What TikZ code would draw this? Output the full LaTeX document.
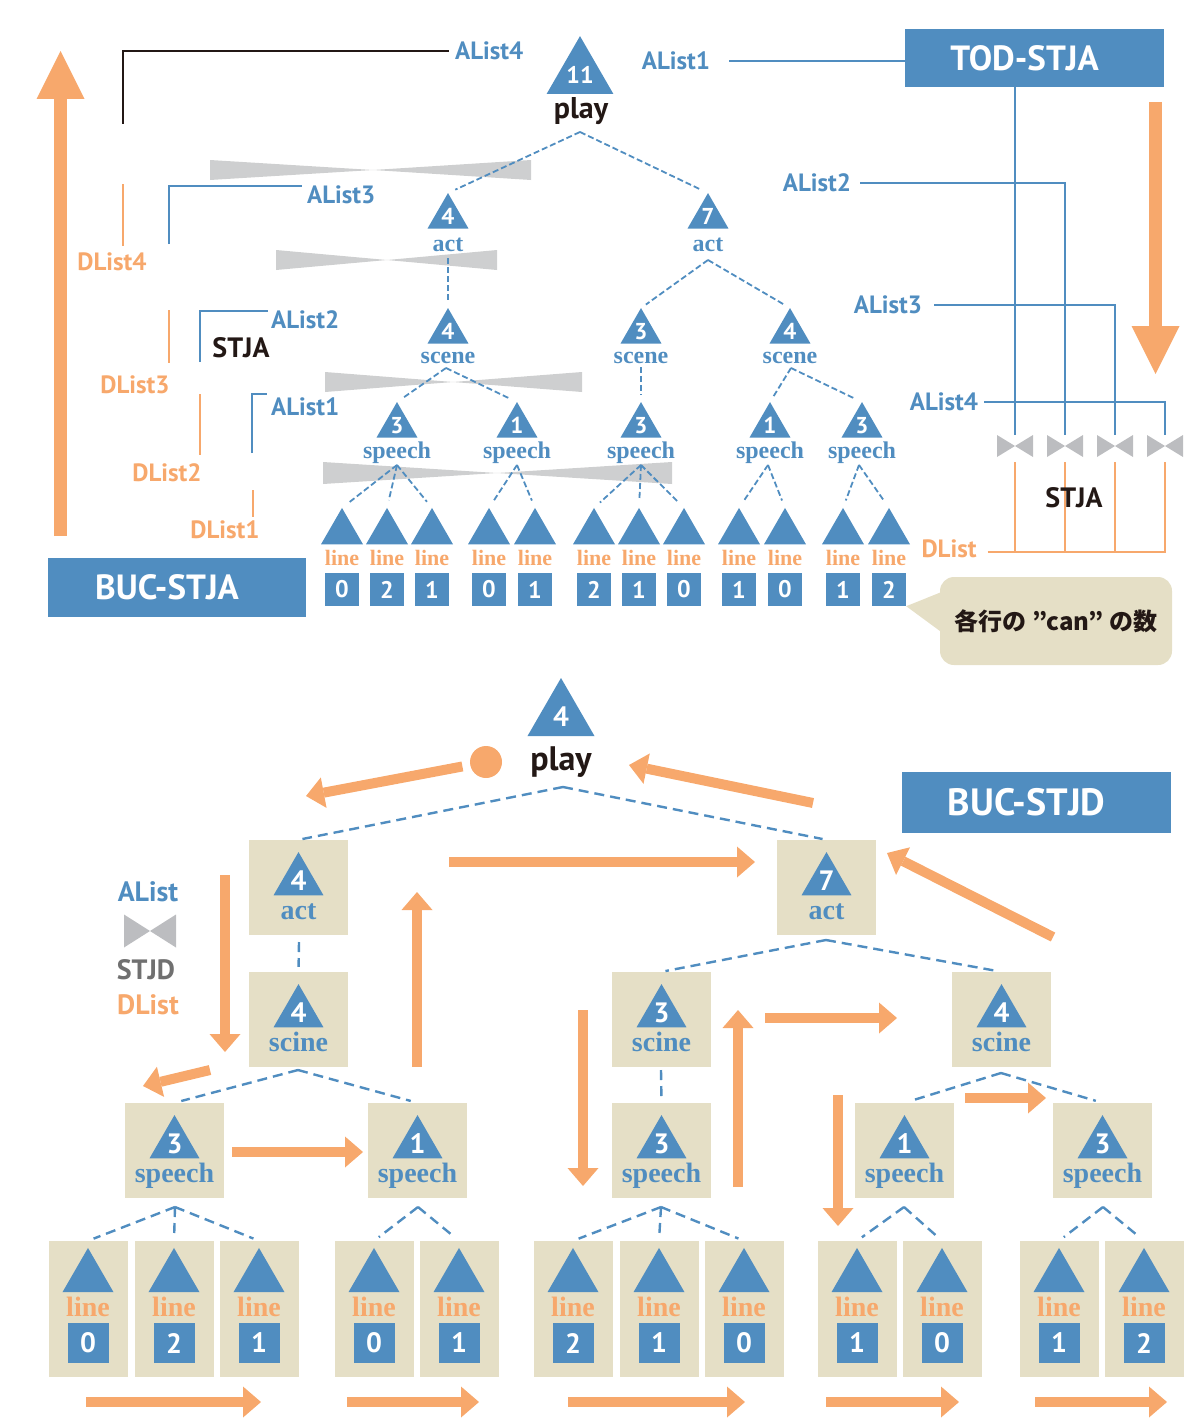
\documentclass[tikz,border=0pt]{standalone}
\usepackage{fontspec}
\setmainfont{Liberation Serif}
\newfontfamily\sansf{PT Sans}
\newfontfamily\cjk{Noto Sans CJK JP}
\usetikzlibrary{shapes.geometric, arrows.meta}

\definecolor{jblue}{RGB}{80,141,192}
\definecolor{jorange}{RGB}{247,168,108}
\definecolor{jbeige}{RGB}{229,223,198}
\definecolor{jgray}{RGB}{206,207,208}
\definecolor{jtie}{RGB}{188,189,192}
\definecolor{jdark}{RGB}{35,24,21}
\definecolor{jstjd}{RGB}{112,112,112}

\newcommand{\fs}[1]{\fontsize{#1}{#1}\selectfont}

\tikzset{
  tri/.style={regular polygon, regular polygon sides=3, fill=jblue, inner sep=0pt, outer sep=0pt, text=white, font=\sansf\bfseries\fs{23}},
  word/.style={text=jblue, font=\bfseries\fs{24}, inner sep=0pt, anchor=base},
  lineword/.style={text=jorange, font=\bfseries\fs{22}, inner sep=0pt, anchor=base},
  numbox/.style={fill=jblue, text=white, font=\sansf\bfseries\fs{24}, minimum width=34pt, minimum height=33pt, inner sep=0pt},
  alist/.style={text=jblue, font=\sansf\bfseries\fs{25}, inner sep=0pt},
  dlist/.style={text=jorange, font=\sansf\bfseries\fs{25}, inner sep=0pt},
  stja/.style={text=jdark, font=\sansf\bfseries\fs{28}, inner sep=0pt},
  titlebox/.style={fill=jblue, text=white, font=\sansf\bfseries\fs{35}, inner sep=0pt},
  beige/.style={fill=jbeige, inner sep=0pt, minimum width=99pt, minimum height=95pt},
  tiebox/.style={minimum width=36pt, minimum height=22pt, inner sep=0pt, outer sep=0pt},
  dlink/.style={jblue, line width=1.8pt, dash pattern=on 6pt off 3pt},
  bdlink/.style={jblue, line width=2.4pt, dash pattern=on 10pt off 6pt},
  bline/.style={jblue, line width=2pt},
  oline/.style={jorange, line width=2.5pt},
  fat/.style={jorange, line width=10pt, -{Triangle[length=18pt, width=31pt, line width=0pt]}},
  bigfat/.style={jorange, line width=13pt, -{Triangle[length=48pt, width=48pt, line width=0pt]}},
}

% bow tie of two grey triangles
\newcommand{\tie}[4][]{%
  \node[tiebox, #1] (#2) at (#3,#4) {};
  \fill[jtie] (#2.north west) -- (#2.center) -- (#2.south west) -- cycle
              (#2.north east) -- (#2.center) -- (#2.south east) -- cycle;
}
% beige box with counter triangle and element name
\newcommand{\ubox}[5]{%
  \node[beige] (#1) at (#2,#3+47.5) {};
  \node[tri, minimum size=57.7pt, font=\sansf\bfseries\fs{28}] (#1t) at (#2,#3+40.9) {#4};
  \node[word, font=\bfseries\fs{28}] (#1w) at (#2,#3+79) {#5};
}

\begin{document}
\begin{tikzpicture}[x=1pt, y=-1pt]
    \useasboundingbox (0,0) rectangle (1183,1418);

    %%%%% Upper half: STJA %%%%%

    % Grey bow bars behind the tree
    \fill[jgray] (210,160) -- (373,170) -- (531,160) -- (531,180) -- (373,170) -- (210,180) -- cycle;
    \fill[jgray] (276,250) -- (387,260) -- (497,250) -- (497,270) -- (387,260) -- (276,270) -- cycle;
    \fill[jgray] (325,372) -- (453,382) -- (582,372) -- (582,392) -- (453,382) -- (325,392) -- cycle;
    \fill[jgray] (323,462) -- (497,473) -- (672,462) -- (672,484) -- (497,473) -- (323,484) -- cycle;

    % Tree nodes
    \node[tri, minimum size=69.3pt, font=\sansf\bfseries\fs{24}] (p) at (580,74.6) {11};
    \node[word, text=jdark, font=\sansf\bfseries\fs{30}] (pw) at (581,118) {play};
    \node[tri, minimum size=47.3pt] (a4) at (448,216.7) {4};
    \node[word] (a4w) at (448,251) {act};
    \node[tri, minimum size=47.3pt] (a7) at (708,216.7) {7};
    \node[word] (a7w) at (708,251) {act};
    \node[tri, minimum size=47.3pt] (s4) at (448,331.7) {4};
    \node[word] (s4w) at (448,363) {scene};
    \node[tri, minimum size=47.3pt] (s3) at (641,331.7) {3};
    \node[word] (s3w) at (641,363) {scene};
    \node[tri, minimum size=47.3pt] (s4b) at (790,331.7) {4};
    \node[word] (s4bw) at (790,363) {scene};
    \foreach \x/\n [count=\i] in {397/3, 517/1, 641/3, 770/1, 862/3} {
        \node[tri, minimum size=47.3pt] (sp\i) at (\x,425.7) {\n};
        \node[word] (spw\i) at (\x,458) {speech};
    }
    \foreach \x/\n [count=\i] in {342/0, 387/2, 432/1, 489/0, 535/1, 594/2, 639/1, 684/0, 739/1, 785/0, 843/1, 889/2} {
        \node[tri, minimum size=48.5pt] (l\i) at (\x,532.2) {};
        \node[lineword] (lw\i) at (\x,565) {line};
        \node[numbox] (ln\i) at (\x,589.5) {\n};
    }

    % Dashed tree edges
    \coordinate (fp) at (580,132);
    \coordinate (fa4) at (448,258);
    \coordinate (fa7) at (708,260);
    \coordinate (fs4) at (446,368);
    \coordinate (fs3) at (641,367);
    \coordinate (fs4b) at (791,368);
    \foreach \x [count=\i] in {397, 517, 641, 768, 859} \coordinate (fsp\i) at (\x,465);
    \draw[dlink, shorten >=8pt] (fp) -- (a4.corner 1);
    \draw[dlink, shorten >=8pt] (fp) -- (a7.corner 1);
    \draw[dlink, shorten >=6pt] (fa4) -- (s4.corner 1);
    \draw[dlink, shorten >=6pt] (fa7) -- (s3.corner 1);
    \draw[dlink, shorten >=6pt] (fa7) -- (s4b.corner 1);
    \draw[dlink, shorten >=7pt] (fs4) -- (sp1.corner 1);
    \draw[dlink, shorten >=7pt] (fs4) -- (sp2.corner 1);
    \draw[dlink, shorten >=7pt] (fs3) -- (sp3.corner 1);
    \draw[dlink, shorten >=7pt] (fs4b) -- (sp4.corner 1);
    \draw[dlink, shorten >=7pt] (fs4b) -- (sp5.corner 1);
    \foreach \f/\c in {fsp1/l1, fsp1/l2, fsp1/l3, fsp2/l4, fsp2/l5, fsp3/l6, fsp3/l7, fsp3/l8, fsp4/l9, fsp4/l10, fsp5/l11, fsp5/l12}
        \draw[dlink, shorten >=8pt] (\f) -- (\c.corner 1);

    % Left side: BUC-STJA
    \draw[bigfat] (60.5,536) -- (60.5,51);
    \node[titlebox, minimum width=258pt, minimum height=59pt] (buca) at (177,587.5) {BUC-STJA\hspace*{20pt}};
    \node[alist, anchor=west] (al4) at (455,51) {AList4};
    \node[alist, anchor=west] (al3) at (307,195) {AList3};
    \node[alist, anchor=west] (al2) at (271,320) {AList2};
    \node[alist, anchor=west] (al1) at (271,407) {AList1};
    \draw[jdark, line width=2.5pt, shorten >=6pt] (123,124) |- (al4.west);
    \draw[bline, shorten >=5pt] (169,244) |- (al3.north west);
    \draw[bline, shorten >=3pt] (200,362) |- (al2.north west);
    \draw[bline, shorten >=4pt] (252,453) |- ([yshift=4pt]al1.north west);
    \node[stja] (stjal) at (241,348) {STJA};
    \node[dlist] (dl4) at (112,262) {DList4};
    \node[dlist] (dl3) at (135,385) {DList3};
    \node[dlist] (dl2) at (167,473) {DList2};
    \node[dlist] (dl1) at (225,530) {DList1};
    \draw[oline] (123,184) -- (123,246);
    \draw[oline] (169,310) -- (169,363);
    \draw[oline] (200,394) -- (200,455);
    \draw[oline] (253,490) -- (253,517);

    % Right side: TOD-STJA
    \node[titlebox, minimum width=259pt, minimum height=58pt] (tod) at (1034.5,58) {TOD-STJA\hspace*{20pt}};
    \draw[bigfat] (1155.5,102) -- (1155.5,374);
    \tie{t1}{1015}{446}
    \tie{t2}{1065}{446}
    \tie{t3}{1115}{446}
    \tie{t4}{1165}{446}
    \node[alist] (ar1) at (676,61) {AList1};
    \node[alist] (ar2) at (817,183) {AList2};
    \node[alist] (ar3) at (888,305) {AList3};
    \node[alist] (ar4) at (944,402) {AList4};
    \draw[bline, shorten <=19pt] (ar1.east) -- (ar1.east -| tod.west);
    \draw[bline] (t1 |- tod.south) -- (t1.north);
    \draw[bline, shorten <=9pt] (ar2.east) -| (t2.north);
    \draw[bline, shorten <=12pt] (ar3.east) -| (t3.north);
    \draw[bline, shorten <=6pt] (ar4.east) -| (t4.north);
    \node[dlist] (dlr) at (949,549) {DList};
    \draw[oline, shorten <=11pt, shorten >=5pt] (dlr.east) ++(0,3) -| (t4.south);
    \foreach \t in {t1, t2, t3} \draw[oline, shorten <=5pt] (\t.south) -- (\t |- 0,552);
    \node[stja] (stjar) at (1074,498) {STJA};

    % Speech bubble
    \fill[jbeige] (944,591) -- (ln12.south east) -- (944,634) -- cycle;
    \node[fill=jbeige, rounded corners=14pt, minimum width=232pt, minimum height=88pt, inner sep=0pt, text=jdark, font=\cjk\bfseries\fs{24}] (cnt) at (1056,621) {各行の ”can” の数};

    %%%%% Lower half: BUC-STJD %%%%%

    \node[tri, minimum size=77.4pt, font=\sansf\bfseries\fs{28}] (bp) at (561,716.7) {4};
    \node[word, text=jdark, font=\sansf\bfseries\fs{34}] (bpw) at (561,770) {play};
    \node[circle, fill=jorange, minimum size=32pt, inner sep=0pt] (dot) at (486,762) {};
    \node[titlebox, font=\sansf\bfseries\fs{38}, minimum width=269pt, minimum height=61pt] (bucd) at (1036.5,802.5) {BUC-STJD\hspace*{20pt}};

    % Beige boxes
    \ubox{ba4}{298.5}{840}{4}{act}
    \ubox{ba7}{826.5}{840}{7}{act}
    \ubox{bs4}{298.5}{972}{4}{scine}
    \ubox{bs3}{661.5}{972}{3}{scine}
    \ubox{bs4b}{1001.5}{972}{4}{scine}
    \ubox{bq1}{174.5}{1103}{3}{speech}
    \ubox{bq2}{417.5}{1103}{1}{speech}
    \ubox{bq3}{661.5}{1103}{3}{speech}
    \ubox{bq4}{904.5}{1103}{1}{speech}
    \ubox{bq5}{1102.5}{1103}{3}{speech}
    \foreach \x/\n [count=\i] in {88/0, 174/2, 259/1, 374/0, 459/1, 573/2, 659/1, 744/0, 857/1, 942/0, 1059/1, 1144/2} {
        \node[beige, minimum width=79pt, minimum height=136pt] (bl\i) at (\x,1309) {};
        \node[tri, minimum size=58.9pt] (blt\i) at (\x,1277.4) {};
        \node[lineword, font=\bfseries\fs{28}] (blw\i) at (\x,1316) {line};
        \node[numbox, minimum width=41pt, minimum height=40pt, font=\sansf\bfseries\fs{28}] (bln\i) at (\x,1343) {\n};
    }

    % Dashed tree edges
    \coordinate (gp) at (563,787);
    \coordinate (ga4) at (299,942);
    \coordinate (ga7) at (826,940);
    \coordinate (gs4) at (298,1070);
    \coordinate (gs3) at (661,1070);
    \coordinate (gs4b) at (1001,1073);
    \foreach \x [count=\i] in {175, 418, 661, 904, 1103} \coordinate (gq\i) at (\x,1207);
    \draw[bdlink, shorten >=4pt] (gp) -- (ba4.north);
    \draw[bdlink, shorten >=4pt] (gp) -- (ba7.north);
    \draw[bdlink, shorten >=5pt] (ga4) -- (bs4.north);
    \draw[bdlink, shorten >=4pt] (ga7) -- (bs3.north);
    \draw[bdlink, shorten >=4pt] (ga7) -- (bs4b.north);
    \draw[bdlink, shorten >=7pt] (gs4) -- (bq1.north);
    \draw[bdlink, shorten >=7pt] (gs4) -- (bq2.north);
    \draw[bdlink, shorten >=5pt] (gs3) -- (bq3.north);
    \draw[bdlink, shorten >=7pt] (gs4b) -- (bq4.north);
    \draw[bdlink, shorten >=7pt] (gs4b) -- (bq5.north);
    \foreach \f/\c in {gq1/bl1, gq1/bl2, gq1/bl3, gq2/bl4, gq2/bl5, gq3/bl6, gq3/bl7, gq3/bl8, gq4/bl9, gq4/bl10, gq5/bl11, gq5/bl12}
        \draw[bdlink, shorten >=6pt] (\f) -- (\c.north);

    % Legend
    \node[alist, font=\sansf\bfseries\fs{28}] (lga) at (148,892) {AList};
    \tie[minimum width=52pt, minimum height=33pt]{lgt}{150}{931}
    \node[alist, text=jstjd, font=\sansf\bfseries\fs{28}] (lgs) at (146,970) {STJD};
    \node[dlist, font=\sansf\bfseries\fs{28}] (lgd) at (148,1005) {DList};

    % Traversal arrows
    \draw[fat, shorten <=24pt] (dot.center) -- (306,796);
    \draw[fat] (813,803) -- (629,765);
    \draw[fat] (449,862) -- (755,862);
    \draw[fat] (1053,937) -- (887,853);
    \draw[fat] (225,875) -- (225,1052);
    \draw[fat] (417,1067) -- (417,892);
    \draw[fat] (210,1070) -- (143,1086);
    \draw[fat] (232,1152) -- (363,1152);
    \draw[fat] (583,1010) -- (583,1186);
    \draw[fat] (738,1187) -- (738,1010);
    \draw[fat] (765,1018) -- (897,1018);
    \draw[fat] (838,1095) -- (838,1226);
    \draw[fat] (965,1098) -- (1046,1098);
    \foreach \a/\b in {86/261, 347/479, 568/745, 826/959, 1035/1167}
        \draw[fat] (\a,1402) -- (\b,1402);
\end{tikzpicture}
\end{document}
